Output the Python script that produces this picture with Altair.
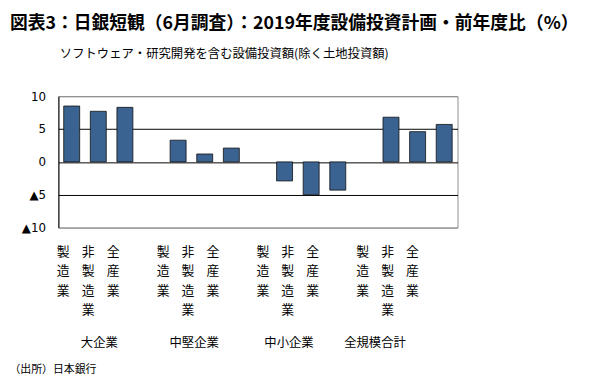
import altair as alt
import pandas as pd

# ---- data ----
groups = ["大企業", "中堅企業", "中小企業", "全規模合計"]
industries = ["製造業", "非製造業", "全産業"]
large = [8.5, 7.7, 8.3]
medium = [3.3, 1.2, 2.1]
small = [-2.9, -5.0, -4.3]
total = [6.8, 4.6, 5.7]
y_ticks = [-10, -5, 0, 5, 10]

title_text = "図表3：日銀短観（6月調査）：2019年度設備投資計画・前年度比（%）"
subtitle_text = "ソフトウェア・研究開発を含む設備投資額(除く土地投資額)"
source_text = "（出所）日本銀行"

JP = "Noto Sans CJK JP"
BAR = "#3a6391"

series = [large, medium, small, total]
rows = []
slot_domain = []
keys = []
for gi, (g, vals) in enumerate(zip(groups, series)):
    for ind, v in zip(industries, vals):
        k = f"{g}|{ind}"
        rows.append({"key": k, "group": g, "industry": ind, "value": v})
        slot_domain.append(k)
        keys.append(k)
    if gi < len(groups) - 1:
        slot_domain.append(f"gap{gi}")
df = pd.DataFrame(rows)
gdf = pd.DataFrame({"group": groups})

bars = alt.Chart(df).mark_bar(color=BAR, stroke="#111111", strokeWidth=0.8).encode(
    x=alt.X(
        "key:N",
        scale=alt.Scale(domain=slot_domain, paddingInner=0.4, paddingOuter=0.2),
        axis=alt.Axis(
            orient="top", labels=False, ticks=False, domain=False, grid=False,
            title=subtitle_text, titleFont=JP, titleFontSize=12.5,
            titleFontWeight="normal", titleColor="#000000",
            titleAnchor="start", titleAlign="left", titleBaseline="middle",
            titleX=1, titleY=-43,
        ),
    ),
    y=alt.Y(
        "value:Q",
        scale=alt.Scale(domain=[-10, 10], nice=False),
        axis=alt.Axis(
            values=y_ticks,
            labelExpr="datum.value < 0 ? '▲' + abs(datum.value) : '' + datum.value",
            grid=True,
            gridColor={"condition": {"test": "abs(datum.value) == 10", "value": "#8c8c8c"}, "value": "#000000"},
            gridWidth=1,
            ticks=False, domainColor="#000000", domainWidth=1,
            labelFont="DejaVu Sans", labelFontSize=12, labelColor="#000000",
            labelPadding=13, labelOverlap=False, title=None,
        ),
    ),
)

labels = alt.Chart(df).mark_point(opacity=0).encode(
    x=alt.X(
        "key:N",
        scale=alt.Scale(type="point", domain=slot_domain, padding=1.4167, align=0.088),
        axis=alt.Axis(
            orient="bottom", values=keys,
            labelExpr="split(split(datum.label, '|')[1], '')",
            ticks=False, tickSize=0, domain=False, grid=False,
            labelFont=JP, labelFontSize=13, labelLineHeight=19.7,
            labelBaseline="top", labelPadding=18, labelAngle=0,
            labelOverlap=False, labelColor="#000000", title=None,
        ),
    ),
)

group_labels = alt.Chart(gdf).mark_point(opacity=0).encode(
    x=alt.X(
        "group:N",
        scale=alt.Scale(type="point", domain=groups, padding=0.604, align=0.353),
        axis=alt.Axis(
            orient="bottom", ticks=False, tickSize=0, domain=False, grid=False,
            labelFont=JP, labelFontSize=12.5, labelColor="#000000",
            labelBaseline="middle", labelPadding=116, labelAngle=0,
            labelOverlap=False,
            labelOffset={"condition": {"test": "datum.label == '全規模合計'", "value": -9}, "value": 0},
            title=source_text, titleFont=JP, titleFontSize=11,
            titleFontWeight="normal", titleColor="#000000",
            titleAnchor="start", titleAlign="left", titleBaseline="middle",
            titleX=-50, titleY=144,
        ),
    ),
)

chart = alt.layer(bars, labels, group_labels).resolve_scale(x="independent").properties(
    width=404,
    height=133,
    autosize=alt.AutoSizeParams(type="none"),
    padding={"left": 51, "top": 87, "right": 125, "bottom": 150},
    title=alt.TitleParams(
        text=title_text, font=JP, fontSize=18, fontWeight="bold",
        color="#000000", anchor="start", frame="group", dx=-49, offset=15,
    ),
).configure_view(stroke="#8c8c8c", strokeWidth=1)

chart.save("out.html", embed_options={"renderer": "svg", "actions": False})
